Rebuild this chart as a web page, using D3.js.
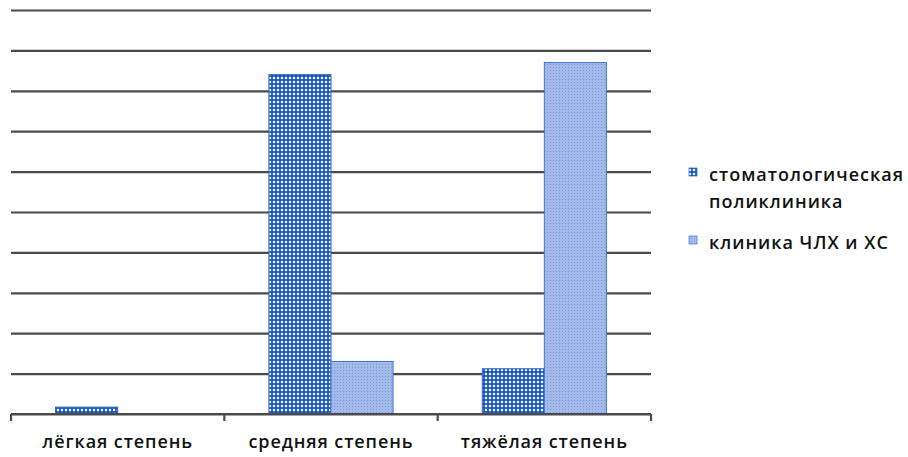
<!DOCTYPE html>
<html><head><meta charset="utf-8">
<script src="https://cdn.jsdelivr.net/npm/d3@7"></script>
<style>body{margin:0;background:#fff}svg{display:block}</style>
</head><body>
<script>
const categories = ["лёгкая степень", "средняя степень", "тяжёлая степень"];
const seriesNames = ["стоматологическая поликлиника", "клиника ЧЛХ и ХС"];
const seriesPoly = [1.7, 84, 11.2];
const seriesClinic = [0, 13, 87];
const yTicks = [0,10,20,30,40,50,60,70,80,90,100];

const W = 908, H = 457;
const svg = d3.select("body").append("svg").attr("width", W).attr("height", H);
const defs = svg.append("defs");
// pattern 1: dark blue with white dots
const p1 = defs.append("pattern").attr("id","pat1").attr("patternUnits","userSpaceOnUse").attr("width",4).attr("height",4);
p1.append("rect").attr("width",4).attr("height",4).attr("fill","#1a58bb");
p1.append("circle").attr("cx",2).attr("cy",2).attr("r",1.25).attr("fill","#f6f8fd");
// pattern 2: light blue with fine dots
const p2 = defs.append("pattern").attr("id","pat2").attr("patternUnits","userSpaceOnUse").attr("width",3).attr("height",3);
p2.append("rect").attr("width",3).attr("height",3).attr("fill","#a4baea");
p2.append("rect").attr("x",1).attr("y",1).attr("width",1).attr("height",1).attr("fill","#7a99da");
const fills = ["url(#pat1)","url(#pat2)"];
const strokes = ["#2a63c2","#3f74cc"];

const x0 = 11, x1 = 651, yTop = 10, yBase = 414;
const x = d3.scaleBand().domain(categories).range([x0,x1]).paddingInner(0.418).paddingOuter(0.209);
const xs = d3.scaleBand().domain([0,1]).range([0,x.bandwidth()]);
const y = d3.scaleLinear().domain([0,100]).range([yBase,yTop]);

// gridlines
const grid = svg.append("g").call(d3.axisLeft(y).tickValues(yTicks).tickSize(-(x1-x0)).tickFormat(""))
  .attr("transform",`translate(${x0},0)`);
grid.select(".domain").remove();
grid.selectAll("line").attr("stroke","#4a4a4a").attr("stroke-width",2.2);

const data = [seriesPoly, seriesClinic];
data.forEach((vals,s)=>{
  svg.append("g").selectAll("rect").data(categories.map((c,i)=>({c,v:vals[i]})).filter(d=>d.v>0))
    .join("rect")
    .attr("x",d=>x(d.c)+xs(s))
    .attr("y",d=>y(d.v))
    .attr("width",xs.bandwidth())
    .attr("height",d=>yBase-y(d.v))
    .attr("fill",fills[s]).attr("stroke",strokes[s]).attr("stroke-width",1);
});

const FONT = "Open Sans, sans-serif";
// x axis
const xAxis = d3.axisBottom(x).tickSize(0).tickPadding(21);
const gx = svg.append("g").attr("transform",`translate(0,${yBase})`).call(xAxis);
gx.select(".domain").remove();
gx.append("line").attr("x1",x0).attr("x2",x1).attr("y1",0).attr("y2",0).attr("stroke","#4a4a4a").attr("stroke-width",2.2);
const bounds = [x0].concat(categories.map(c=>x(c)-x.step()*x.paddingInner()/2+x.step()));
bounds.forEach(b=>gx.append("line").attr("x1",b).attr("x2",b).attr("y1",0).attr("y2",7).attr("stroke","#4a4a4a").attr("stroke-width",2.2));
gx.selectAll(".tick text").attr("font-family",FONT).attr("font-size",18).attr("font-weight",600)
  .attr("fill","#111").attr("letter-spacing","0.9px");

// legend
const leg = svg.append("g").attr("font-family",FONT).attr("font-size",18).attr("font-weight",600).attr("fill","#111");
const legLines = [["стоматологическая","поликлиника"],["клиника ЧЛХ и ХС"]];
const legY = [176, 244];
legLines.forEach((lines,s)=>{
  leg.append("rect").attr("x",689).attr("y",legY[s]-8).attr("width",8).attr("height",8)
    .attr("fill",fills[s]).attr("stroke",strokes[s]).attr("stroke-width",0.7);
  lines.forEach((t,j)=>{
    leg.append("text").attr("x",709).attr("y",legY[s]+j*27).attr("dy","0.3em").attr("letter-spacing","1px").text(t);
  });
});
</script>
</body></html>
